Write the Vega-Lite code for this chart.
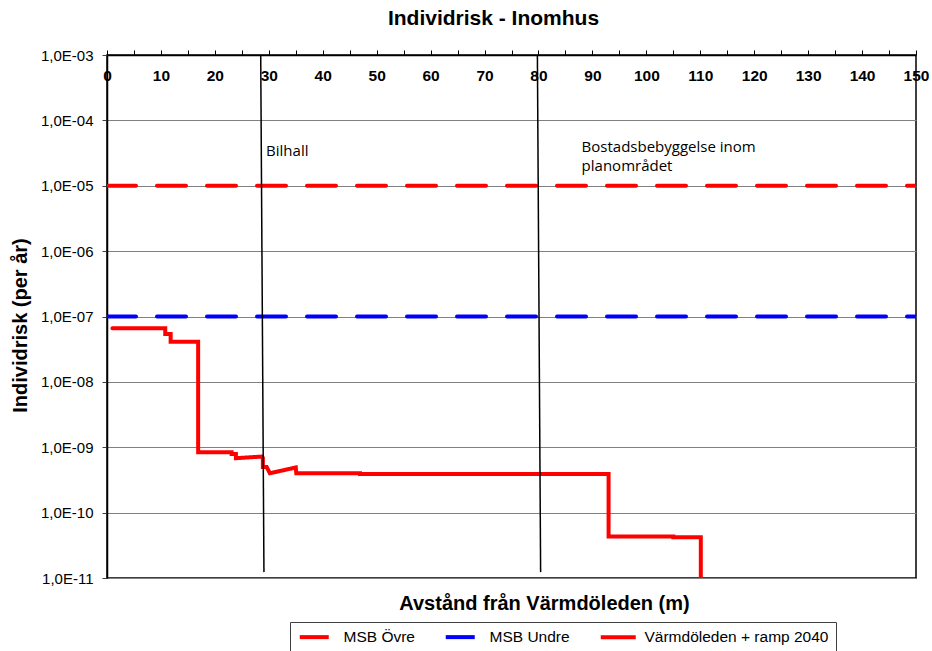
{
  "$schema": "https://vega.github.io/schema/vega-lite/v6.json",
  "width": 809,
  "height": 523,
  "autosize": "none",
  "padding": {"left": 107, "top": 55, "right": 16, "bottom": 73},
  "background": "white",
  "view": {"stroke": "black", "strokeWidth": 1.5},
  "title": {
    "text": "Individrisk - Inomhus",
    "font": "Liberation Sans",
    "fontSize": 21,
    "fontWeight": "bold",
    "color": "black",
    "anchor": "middle",
    "dx": -18,
    "offset": 19
  },
  "datasets": {
    "lines": [
      {"series": "MSB Övre", "x": 0, "y": 1e-5, "i": 0},
      {"series": "MSB Övre", "x": 150, "y": 1e-5, "i": 1},
      {"series": "MSB Undre", "x": 0, "y": 1e-7, "i": 0},
      {"series": "MSB Undre", "x": 150, "y": 1e-7, "i": 1},
      {"series": "Värmdöleden + ramp 2040", "x": 1, "y": 6.6e-8, "i": 0},
      {"series": "Värmdöleden + ramp 2040", "x": 10.8, "y": 6.6e-8, "i": 1},
      {"series": "Värmdöleden + ramp 2040", "x": 10.8, "y": 5.4e-8, "i": 2},
      {"series": "Värmdöleden + ramp 2040", "x": 11.8, "y": 5.4e-8, "i": 3},
      {"series": "Värmdöleden + ramp 2040", "x": 11.8, "y": 4.1e-8, "i": 4},
      {"series": "Värmdöleden + ramp 2040", "x": 16.9, "y": 4.1e-8, "i": 5},
      {"series": "Värmdöleden + ramp 2040", "x": 16.9, "y": 8.4e-10, "i": 6},
      {"series": "Värmdöleden + ramp 2040", "x": 23.1, "y": 8.4e-10, "i": 7},
      {"series": "Värmdöleden + ramp 2040", "x": 23.1, "y": 7.9e-10, "i": 8},
      {"series": "Värmdöleden + ramp 2040", "x": 23.9, "y": 7.9e-10, "i": 9},
      {"series": "Värmdöleden + ramp 2040", "x": 23.9, "y": 6.8e-10, "i": 10},
      {"series": "Värmdöleden + ramp 2040", "x": 28.7, "y": 7.2e-10, "i": 11},
      {"series": "Värmdöleden + ramp 2040", "x": 28.9, "y": 6.9e-10, "i": 12},
      {"series": "Värmdöleden + ramp 2040", "x": 28.9, "y": 5.0e-10, "i": 13},
      {"series": "Värmdöleden + ramp 2040", "x": 29.6, "y": 5.0e-10, "i": 14},
      {"series": "Värmdöleden + ramp 2040", "x": 30.2, "y": 4.0e-10, "i": 15},
      {"series": "Värmdöleden + ramp 2040", "x": 35.0, "y": 4.9e-10, "i": 16},
      {"series": "Värmdöleden + ramp 2040", "x": 35.1, "y": 4.0e-10, "i": 17},
      {"series": "Värmdöleden + ramp 2040", "x": 46.9, "y": 4.0e-10, "i": 18},
      {"series": "Värmdöleden + ramp 2040", "x": 46.9, "y": 3.9e-10, "i": 19},
      {"series": "Värmdöleden + ramp 2040", "x": 93.0, "y": 3.9e-10, "i": 20},
      {"series": "Värmdöleden + ramp 2040", "x": 93.0, "y": 4.3e-11, "i": 21},
      {"series": "Värmdöleden + ramp 2040", "x": 105.0, "y": 4.3e-11, "i": 22},
      {"series": "Värmdöleden + ramp 2040", "x": 105.0, "y": 4.2e-11, "i": 23},
      {"series": "Värmdöleden + ramp 2040", "x": 110.1, "y": 4.2e-11, "i": 24},
      {"series": "Värmdöleden + ramp 2040", "x": 110.1, "y": 1e-11, "i": 25}
    ],
    "markers": [
      {"x": 28.5, "y": 1e-3, "x2": 29.1, "y2": 1.23e-11},
      {"x": 79.8, "y": 1e-3, "x2": 80.4, "y2": 1.23e-11}
    ],
    "notes": [
      {"label": "Bilhall", "x": 29.5, "y": 2.85e-5},
      {"label": "Bostadsbebyggelse inom", "x": 88.0, "y": 3.32e-5},
      {"label": "planområdet", "x": 88.0, "y": 1.68e-5}
    ]
  },
  "resolve": {"axis": {"x": "independent"}},
  "layer": [
    {
      "data": {"name": "lines"},
      "mark": {"type": "line", "strokeWidth": 4, "strokeCap": "round", "clip": true},
      "encoding": {
        "x": {
          "field": "x",
          "type": "quantitative",
          "scale": {"domain": [0, 150], "nice": false, "zero": false},
          "axis": {
            "orient": "top",
            "title": null,
            "values": [0, 5, 10, 15, 20, 25, 30, 35, 40, 45, 50, 55, 60, 65, 70, 75, 80, 85, 90, 95, 100, 105, 110, 115, 120, 125, 130, 135, 140, 145, 150],
            "labelExpr": "datum.value % 10 === 0 ? datum.label : ''",
            "labelFont": "Liberation Sans",
            "labelFontSize": 15.5,
            "labelFontWeight": "bold",
            "labelColor": "black",
            "labelBaseline": "top",
            "labelPadding": -18,
            "labelFlush": false,
            "labelOverlap": false,
            "tickSize": 5,
            "tickColor": "black",
            "domainColor": "black",
            "domainWidth": 1.5,
            "grid": false
          }
        },
        "y": {
          "field": "y",
          "type": "quantitative",
          "scale": {"type": "log", "domain": [1e-11, 1e-3], "nice": false},
          "axis": {
            "orient": "left",
            "values": [1e-11, 1e-10, 1e-9, 1e-8, 1e-7, 1e-6, 1e-5, 1e-4, 1e-3],
            "labelExpr": "'1,0E-' + (round(-log(datum.value)/LN10) < 10 ? '0' : '') + round(-log(datum.value)/LN10)",
            "labelFont": "Liberation Sans",
            "labelFontSize": 15,
            "labelColor": "black",
            "labelPadding": 9,
            "tickSize": 5,
            "tickColor": "#404040",
            "domainColor": "black",
            "domainWidth": 1.5,
            "grid": true,
            "gridColor": "#808080",
            "gridWidth": 1,
            "title": "Individrisk (per år)",
            "titleFont": "Liberation Sans",
            "titleFontSize": 20,
            "titleFontWeight": "bold",
            "titleColor": "black",
            "titlePadding": 10,
            "titleY": 270
          }
        },
        "color": {
          "field": "series",
          "type": "nominal",
          "scale": {
            "domain": ["MSB Övre", "MSB Undre", "Värmdöleden + ramp 2040"],
            "range": ["#ff0000", "#0000ff", "#ff0000"]
          },
          "legend": {
            "title": null,
            "orient": "none",
            "direction": "horizontal",
            "columns": 3,
            "legendX": 183,
            "legendY": 567,
            "padding": 7,
            "strokeColor": "#404040",
            "fillColor": "white",
            "symbolType": "M-1,0H6",
            "symbolSize": 100,
            "symbolStrokeWidth": 4,
            "symbolDash": [1, 0],
            "labelFont": "Liberation Sans",
            "labelFontSize": 15.5,
            "labelColor": "black",
            "labelOffset": 31,
            "columnPadding": 22,
            "labelLimit": 400
          }
        },
        "strokeDash": {
          "field": "series",
          "type": "nominal",
          "scale": {
            "domain": ["MSB Övre", "MSB Undre", "Värmdöleden + ramp 2040"],
            "range": [[29, 21], [29, 21], [1, 0]]
          },
          "legend": null
        },
        "order": {"field": "i", "type": "quantitative"}
      }
    },
    {
      "data": {"name": "markers"},
      "mark": {"type": "rule", "color": "black", "strokeWidth": 1.5},
      "encoding": {
        "x": {
          "field": "x",
          "type": "quantitative",
          "axis": {
            "orient": "bottom",
            "title": "Avstånd från Värmdöleden (m)",
            "titleFont": "Liberation Sans",
            "titleFontSize": 20,
            "titleFontWeight": "bold",
            "titleColor": "black",
            "titleX": 437,
            "titleY": 31,
            "titleBaseline": "alphabetic",
            "labels": false,
            "ticks": false,
            "domain": false,
            "grid": false
          }
        },
        "x2": {"field": "x2"},
        "y": {"field": "y", "type": "quantitative"},
        "y2": {"field": "y2"}
      }
    },
    {
      "data": {"name": "notes"},
      "mark": {"type": "text", "font": "Open Sans", "fontSize": 15, "color": "black", "align": "left", "baseline": "alphabetic"},
      "encoding": {
        "x": {"field": "x", "type": "quantitative", "axis": null},
        "y": {"field": "y", "type": "quantitative"},
        "text": {"field": "label"}
      }
    }
  ]
}
